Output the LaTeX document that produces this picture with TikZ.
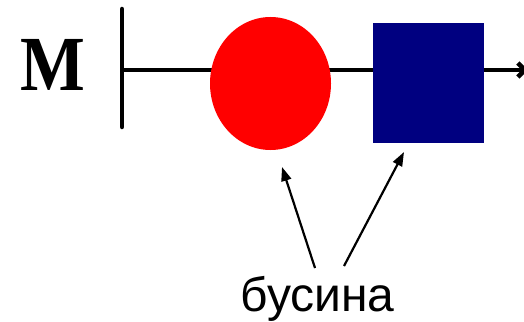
\documentclass[tikz,border=0pt]{standalone}
\usepackage{fontspec}
\setmainfont{Liberation Serif}
\newfontfamily\labelfont{Liberation Sans}
\usetikzlibrary{arrows.meta,shapes.geometric}
\definecolor{beadred}{RGB}{255,0,0}
\definecolor{beadblue}{RGB}{0,0,128}
\tikzset{
  wire/.style={line width=4.5pt, draw=black},
  pointer/.style={line width=2.2pt, draw=black, -{Triangle[length=14pt,width=10pt]}},
}
\begin{document}
\begin{tikzpicture}[x=1pt,y=-1pt]
\useasboundingbox (0,0) rectangle (524,321);
\node[font=\bfseries\fontsize{78}{78}\selectfont, inner sep=0, anchor=base, xscale=0.88] (M) at (53,90) {M};
\coordinate (bartop) at (122,9);
\coordinate (barbot) at (122,127);
\coordinate (start) at (122,70);
\coordinate (end) at (528,70);
\draw[wire, line cap=round] (bartop) -- (barbot);
\draw[wire, -{Straight Barb[length=7pt,width=14pt]}] (start) -- (end);
\node[ellipse, fill=beadred, minimum width=121pt, minimum height=133pt, inner sep=0] (red) at (270.5,83.5) {};
\node[rectangle, fill=beadblue, minimum width=111pt, minimum height=120pt, inner sep=0] (blue) at (428.5,83) {};
\node[font=\labelfont\fontsize{48}{48}\selectfont, inner sep=0, anchor=base] (lbl) at (317.5,311) {бусина};
\coordinate (s1) at (315,268);
\coordinate (s2) at (344,266);
\coordinate (t1) at (282,167);
\coordinate (t2) at (404,152);
\draw[pointer] (s1) -- (t1);
\draw[pointer] (s2) -- (t2);
\end{tikzpicture}
\end{document}
